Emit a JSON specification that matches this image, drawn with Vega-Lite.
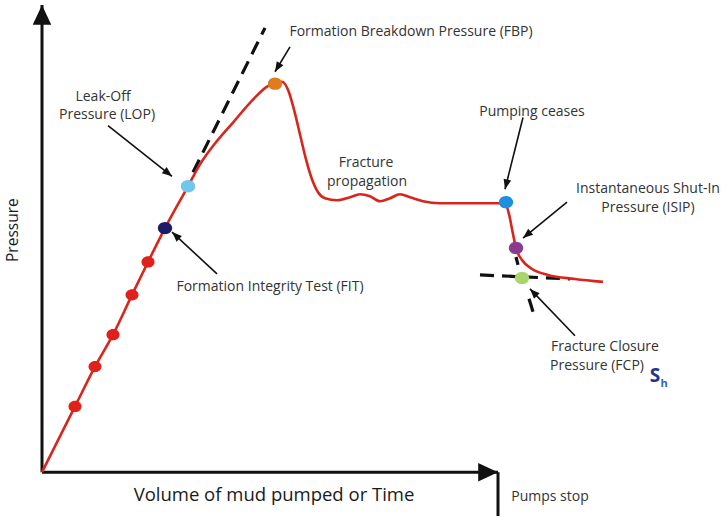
{
  "$schema": "https://vega.github.io/schema/vega-lite/v6.json",
  "width": 723,
  "height": 518,
  "autosize": {"type": "fit", "contains": "padding"},
  "padding": 0,
  "background": "white",
  "config": {"view": {"stroke": null}},
  "datasets": {
    "curve": [
      {"x": 0, "y": 0}, {"x": 33, "y": 66}, {"x": 53, "y": 106}, {"x": 71, "y": 138},
      {"x": 90, "y": 178}, {"x": 106, "y": 211}, {"x": 123, "y": 245}, {"x": 146, "y": 287},
      {"x": 158, "y": 309}, {"x": 173, "y": 330}, {"x": 191, "y": 351}, {"x": 211, "y": 374},
      {"x": 225, "y": 387}, {"x": 234, "y": 391}, {"x": 240, "y": 392}, {"x": 246, "y": 384},
      {"x": 252, "y": 364}, {"x": 258, "y": 339}, {"x": 264, "y": 314}, {"x": 270, "y": 294},
      {"x": 276, "y": 281}, {"x": 283, "y": 275}, {"x": 295, "y": 273}, {"x": 308, "y": 276},
      {"x": 318, "y": 279}, {"x": 328, "y": 277}, {"x": 338, "y": 272}, {"x": 348, "y": 275},
      {"x": 358, "y": 279}, {"x": 368, "y": 276}, {"x": 381, "y": 272}, {"x": 398, "y": 270},
      {"x": 463, "y": 270}, {"x": 467, "y": 259}, {"x": 471, "y": 239}, {"x": 474, "y": 225},
      {"x": 480, "y": 213}, {"x": 490, "y": 204}, {"x": 506, "y": 198}, {"x": 533, "y": 194},
      {"x": 561, "y": 191}
    ],
    "redDots": [
      {"x": 33, "y": 66}, {"x": 53, "y": 106}, {"x": 71, "y": 138}, {"x": 90, "y": 178}, {"x": 106, "y": 211}
    ],
    "keyDots": [
      {"x": 123, "y": 245, "k": "FIT"},
      {"x": 146, "y": 287, "k": "LOP"},
      {"x": 233, "y": 390, "k": "FBP"},
      {"x": 464, "y": 271, "k": "Pump"},
      {"x": 474, "y": 225, "k": "ISIP"},
      {"x": 480, "y": 195, "k": "FCP"}
    ],
    "dashes": [
      {"x": 151, "y": 301, "x2": 223, "y2": 446},
      {"x": 438, "y": 198, "x2": 528, "y2": 194},
      {"x": 474, "y": 216, "x2": 476, "y2": 208},
      {"x": 487, "y": 174, "x2": 491, "y2": 161}
    ],
    "arrows": [
      {"x": 248, "y": 427, "x2": 233, "y2": 402},
      {"x": 66, "y": 348, "x2": 130, "y2": 297},
      {"x": 175, "y": 199, "x2": 130, "y2": 241},
      {"x": 481, "y": 356, "x2": 463, "y2": 284},
      {"x": 525, "y": 271, "x2": 481, "y2": 235},
      {"x": 533, "y": 137, "x2": 488, "y2": 184}
    ],
    "axes": [
      {"x": 0, "y": 0, "x2": 0, "y2": 469, "head": true},
      {"x": 0, "y": 0, "x2": 456, "y2": 0, "head": true},
      {"x": 456, "y": 0, "x2": 456, "y2": -44, "head": false}
    ],
    "labels": [
      {"x": 61, "y": 377, "t": "Leak-Off"},
      {"x": 65, "y": 359, "t": "Pressure (LOP)"},
      {"x": 369, "y": 442, "t": "Formation Breakdown Pressure (FBP)"},
      {"x": 324, "y": 310, "t": "Fracture"},
      {"x": 325, "y": 291, "t": "propagation"},
      {"x": 490, "y": 362, "t": "Pumping ceases"},
      {"x": 606, "y": 284, "t": "Instantaneous Shut-In"},
      {"x": 606, "y": 265, "t": "Pressure (ISIP)"},
      {"x": 563, "y": 126, "t": "Fracture Closure"},
      {"x": 555, "y": 107, "t": "Pressure (FCP)"},
      {"x": 228, "y": 186, "t": "Formation Integrity Test (FIT)"},
      {"x": 508, "y": -25, "t": "Pumps stop"}
    ],
    "xTitle": [{"x": 232, "y": -23, "t": "Volume of mud pumped or Time"}],
    "yTitle": [{"x": -29, "y": 243, "t": "Pressure"}],
    "sMain": [{"x": 613, "y": 97, "t": "S"}],
    "sSub": [{"x": 622, "y": 89, "t": "h"}]
  },
  "layer": [
    {
      "data": {"name": "axes"},
      "mark": {"type": "rule", "color": "#111111", "strokeWidth": 3},
      "encoding": {
        "x": {"field": "x", "type": "quantitative", "scale": {"domain": [-42, 681], "nice": false, "zero": false}, "axis": null},
        "y": {"field": "y", "type": "quantitative", "scale": {"domain": [-44, 474], "nice": false, "zero": false}, "axis": null},
        "x2": {"field": "x2"},
        "y2": {"field": "y2"}
      }
    },
    {
      "data": {"name": "axes"},
      "transform": [
        {"filter": "datum.head"},
        {"calculate": "atan2(datum.x2 - datum.x, datum.y2 - datum.y) * 180 / PI", "as": "ang"}
      ],
      "mark": {"type": "point", "shape": "M0,0L-0.7,1.5L0.7,1.5Z", "filled": true, "color": "#111111", "opacity": 1, "size": 700},
      "encoding": {
        "x": {"field": "x2", "type": "quantitative", "scale": {"domain": [-42, 681], "nice": false, "zero": false}, "axis": null},
        "y": {"field": "y2", "type": "quantitative", "scale": {"domain": [-44, 474], "nice": false, "zero": false}, "axis": null},
        "angle": {"field": "ang", "type": "quantitative", "scale": null}
      }
    },
    {
      "data": {"name": "dashes"},
      "mark": {"type": "rule", "color": "#111111", "strokeWidth": 3.2, "strokeDash": [14, 8], "strokeCap": "butt"},
      "encoding": {
        "x": {"field": "x", "type": "quantitative", "scale": {"domain": [-42, 681], "nice": false, "zero": false}, "axis": null},
        "y": {"field": "y", "type": "quantitative", "scale": {"domain": [-44, 474], "nice": false, "zero": false}, "axis": null},
        "x2": {"field": "x2"},
        "y2": {"field": "y2"}
      }
    },
    {
      "data": {"name": "curve"},
      "mark": {"type": "line", "color": "#d8261c", "strokeWidth": 2.6, "interpolate": "monotone"},
      "encoding": {
        "x": {"field": "x", "type": "quantitative", "scale": {"domain": [-42, 681], "nice": false, "zero": false}, "axis": null},
        "y": {"field": "y", "type": "quantitative", "scale": {"domain": [-44, 474], "nice": false, "zero": false}, "axis": null}
      }
    },
    {
      "data": {"name": "redDots"},
      "mark": {"type": "point", "shape": "M-1.1,0A1.1,0.95,0,1,0,1.1,0A1.1,0.95,0,1,0,-1.1,0Z", "filled": true, "color": "#e0211b", "opacity": 1, "size": 140},
      "encoding": {
        "x": {"field": "x", "type": "quantitative", "scale": {"domain": [-42, 681], "nice": false, "zero": false}, "axis": null},
        "y": {"field": "y", "type": "quantitative", "scale": {"domain": [-44, 474], "nice": false, "zero": false}, "axis": null}
      }
    },
    {
      "data": {"name": "keyDots"},
      "mark": {"type": "point", "shape": "M-1.1,0A1.1,0.95,0,1,0,1.1,0A1.1,0.95,0,1,0,-1.1,0Z", "filled": true, "opacity": 1, "size": 170},
      "encoding": {
        "x": {"field": "x", "type": "quantitative", "scale": {"domain": [-42, 681], "nice": false, "zero": false}, "axis": null},
        "y": {"field": "y", "type": "quantitative", "scale": {"domain": [-44, 474], "nice": false, "zero": false}, "axis": null},
        "color": {
          "field": "k", "type": "nominal", "legend": null,
          "scale": {
            "domain": ["FIT", "LOP", "FBP", "Pump", "ISIP", "FCP"],
            "range": ["#1e1a6b", "#6fc6ef", "#e07b1f", "#1c8fe0", "#8b3b8e", "#a8d66c"]
          }
        }
      }
    },
    {
      "data": {"name": "arrows"},
      "mark": {"type": "rule", "color": "#111111", "strokeWidth": 1.6},
      "encoding": {
        "x": {"field": "x", "type": "quantitative", "scale": {"domain": [-42, 681], "nice": false, "zero": false}, "axis": null},
        "y": {"field": "y", "type": "quantitative", "scale": {"domain": [-44, 474], "nice": false, "zero": false}, "axis": null},
        "x2": {"field": "x2"},
        "y2": {"field": "y2"}
      }
    },
    {
      "data": {"name": "arrows"},
      "transform": [
        {"calculate": "atan2(datum.x2 - datum.x, datum.y2 - datum.y) * 180 / PI", "as": "ang"}
      ],
      "mark": {"type": "point", "shape": "M0,0L-0.55,1.4L0.55,1.4Z", "filled": true, "color": "#111111", "opacity": 1, "size": 200},
      "encoding": {
        "x": {"field": "x2", "type": "quantitative", "scale": {"domain": [-42, 681], "nice": false, "zero": false}, "axis": null},
        "y": {"field": "y2", "type": "quantitative", "scale": {"domain": [-44, 474], "nice": false, "zero": false}, "axis": null},
        "angle": {"field": "ang", "type": "quantitative", "scale": null}
      }
    },
    {
      "data": {"name": "labels"},
      "mark": {"type": "text", "font": "Open Sans", "fontSize": 14, "color": "#333333", "align": "center", "baseline": "middle"},
      "encoding": {
        "x": {"field": "x", "type": "quantitative", "scale": {"domain": [-42, 681], "nice": false, "zero": false}, "axis": null},
        "y": {"field": "y", "type": "quantitative", "scale": {"domain": [-44, 474], "nice": false, "zero": false}, "axis": null},
        "text": {"field": "t"}
      }
    },
    {
      "data": {"name": "xTitle"},
      "mark": {"type": "text", "font": "Open Sans", "fontSize": 18.5, "color": "#1a1a1a", "align": "center", "baseline": "middle"},
      "encoding": {
        "x": {"field": "x", "type": "quantitative", "scale": {"domain": [-42, 681], "nice": false, "zero": false}, "axis": null},
        "y": {"field": "y", "type": "quantitative", "scale": {"domain": [-44, 474], "nice": false, "zero": false}, "axis": null},
        "text": {"field": "t"}
      }
    },
    {
      "data": {"name": "yTitle"},
      "mark": {"type": "text", "font": "Open Sans", "fontSize": 15.5, "color": "#1a1a1a", "align": "center", "baseline": "middle", "angle": 270},
      "encoding": {
        "x": {"field": "x", "type": "quantitative", "scale": {"domain": [-42, 681], "nice": false, "zero": false}, "axis": null},
        "y": {"field": "y", "type": "quantitative", "scale": {"domain": [-44, 474], "nice": false, "zero": false}, "axis": null},
        "text": {"field": "t"}
      }
    },
    {
      "data": {"name": "sMain"},
      "mark": {"type": "text", "font": "Open Sans", "fontSize": 19, "fontWeight": "bold", "color": "#23358f", "align": "center", "baseline": "middle"},
      "encoding": {
        "x": {"field": "x", "type": "quantitative", "scale": {"domain": [-42, 681], "nice": false, "zero": false}, "axis": null},
        "y": {"field": "y", "type": "quantitative", "scale": {"domain": [-44, 474], "nice": false, "zero": false}, "axis": null},
        "text": {"field": "t"}
      }
    },
    {
      "data": {"name": "sSub"},
      "mark": {"type": "text", "font": "Open Sans", "fontSize": 11, "fontWeight": "bold", "color": "#2a62c4", "align": "center", "baseline": "middle"},
      "encoding": {
        "x": {"field": "x", "type": "quantitative", "scale": {"domain": [-42, 681], "nice": false, "zero": false}, "axis": null},
        "y": {"field": "y", "type": "quantitative", "scale": {"domain": [-44, 474], "nice": false, "zero": false}, "axis": null},
        "text": {"field": "t"}
      }
    }
  ]
}
